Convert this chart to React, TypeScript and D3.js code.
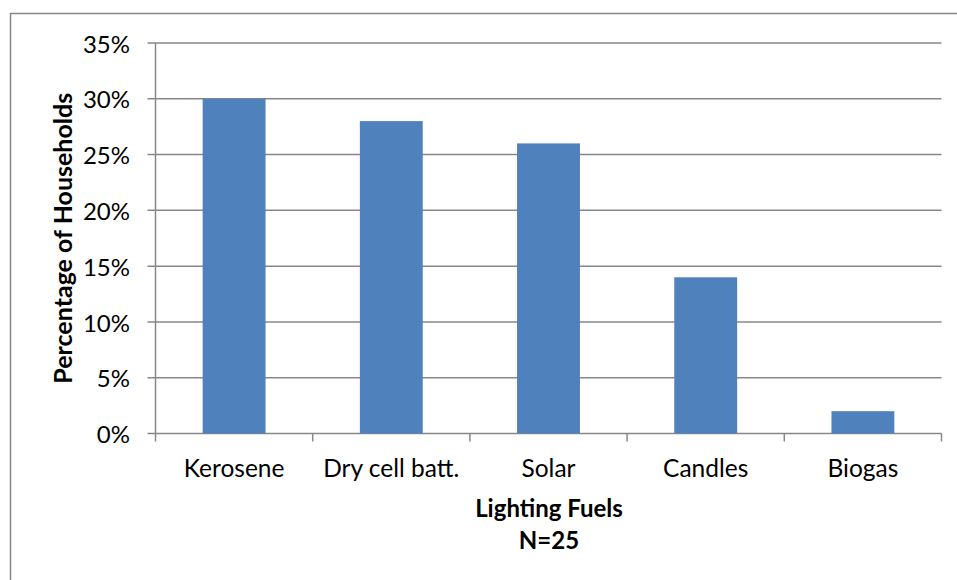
import React from "react";
import * as d3 from "d3";

const categories = ["Kerosene", "Dry cell batt.", "Solar", "Candles", "Biogas"];
const values = [30, 28, 26, 14, 2];
const yTicks = [0, 5, 10, 15, 20, 25, 30, 35];
const yTitle = "Percentage of Households";
const xTitle = ["Lighting Fuels", "N=25"];

const W = 957;
const H = 580;
const plot = { left: 155.5, right: 941.5, top: 43, bottom: 433.5 };
const font = "Lato, 'Open Sans', sans-serif";
const gridColor = "#878787";

export default function App() {
  const x = d3
    .scaleBand<string>()
    .domain(categories)
    .range([plot.left, plot.right])
    .paddingInner(0.6)
    .paddingOuter(0.3);
  const xb = d3.scaleBand<string>().domain(categories).range([plot.left, plot.right]);
  const y = d3.scaleLinear().domain([0, 35]).range([plot.bottom, plot.top]);
  const boundaries = [...categories.map((c) => xb(c) as number), plot.right];

  return (
    <svg width={W} height={H} style={{ position: "absolute", left: 0, top: 0 }}>
      <rect x={0} y={0} width={W} height={H} fill="#fff" />
      <rect x={10.5} y={13.5} width={W} height={H} fill="none" stroke="#878787" strokeWidth={1.5} />
      {yTicks.map((t) => (
        <g key={t}>
          <line x1={plot.left - 8} x2={plot.right} y1={y(t)} y2={y(t)} stroke={gridColor} strokeWidth={1.5} />
          <text x={130} y={y(t)} dy="0.4em" textAnchor="end" fontFamily={font} fontSize={24} fill="#000">
            {t}%
          </text>
        </g>
      ))}
      <line x1={plot.left} x2={plot.left} y1={plot.top} y2={plot.bottom} stroke={gridColor} strokeWidth={1.5} />
      {boundaries.map((b, i) => (
        <line key={i} x1={b} x2={b} y1={plot.bottom} y2={plot.bottom + 8} stroke={gridColor} strokeWidth={1.5} />
      ))}
      {categories.map((c, i) => (
        <rect key={c} x={x(c)} y={y(values[i])} width={x.bandwidth()} height={y(0) - y(values[i])} fill="#4F81BD" />
      ))}
      {categories.map((c) => (
        <text
          key={c}
          x={(xb(c) as number) + xb.bandwidth() / 2}
          y={477}
          textAnchor="middle"
          fontFamily={font}
          fontSize={24.5}
          fill="#000"
        >
          {c}
        </text>
      ))}
      <text
        transform={`translate(72, ${(plot.top + plot.bottom) / 2}) rotate(-90)`}
        textAnchor="middle"
        fontFamily={font}
        fontWeight="bold"
        fontSize={25}
        fill="#000"
      >
        {yTitle}
      </text>
      {xTitle.map((t, i) => (
        <text key={t} x={549} y={517 + i * 32} textAnchor="middle" fontFamily={font} fontWeight="bold" fontSize={24} fill="#000">
          {t}
        </text>
      ))}
    </svg>
  );
}
